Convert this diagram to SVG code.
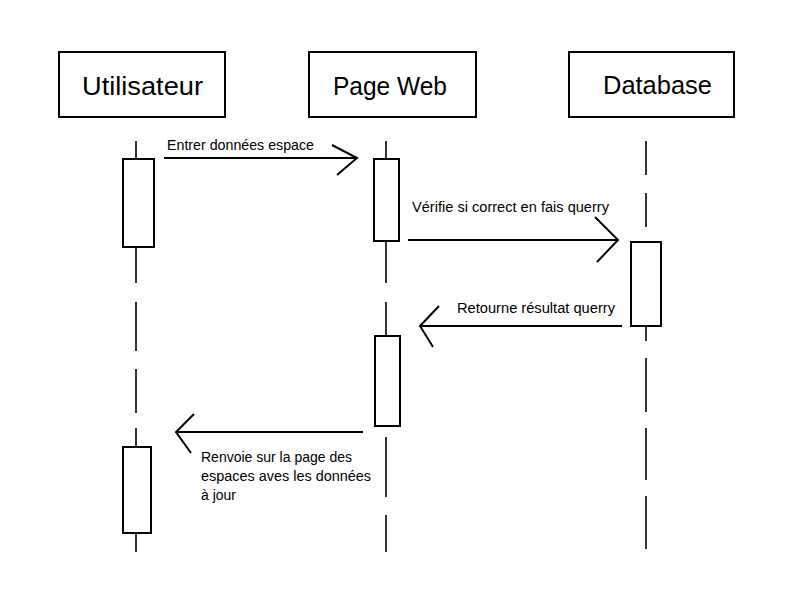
<svg xmlns="http://www.w3.org/2000/svg" width="800" height="600" viewBox="0 0 800 600">
<style>
.box{fill:#fff;stroke:#000;stroke-width:2}
.act{fill:#fff;stroke:#000;stroke-width:2}
.life{stroke:#333;stroke-width:2;fill:none}
.msg{stroke:#000;stroke-width:2;fill:none;stroke-linecap:butt;stroke-linejoin:miter}
.hdr{font-family:"Liberation Sans",Arial,sans-serif;font-size:26px;fill:#000}
.lbl{font-family:"Liberation Sans",Arial,sans-serif;font-size:14px;fill:#000}
</style>
<rect width="800" height="600" fill="#fff"/>
<g id="lifelines">
<path class="life" d="M136,141V159M136,247V283M136,302V351M136,369V413M136,428V447M136,533V552"/>
<path class="life" d="M386,141V159M386,241V283M386,302V336M386,437V497M386,515V552"/>
<path class="life" d="M646,141V175M646,193V227M646,325V341M646,358V412M646,428V480M646,496V549"/>
</g>
<g id="utilisateur">
<rect class="box" x="59" y="52" width="166" height="65"/>
<text class="hdr" x="82" y="95" textLength="121" lengthAdjust="spacingAndGlyphs">Utilisateur</text>
<rect class="act" x="123" y="159" width="31" height="88"/>
<rect class="act" x="123" y="447" width="28" height="86"/>
</g>
<g id="pageweb">
<rect class="box" x="309" y="52" width="167" height="65"/>
<text class="hdr" x="333" y="95" textLength="114" lengthAdjust="spacingAndGlyphs">Page Web</text>
<rect class="act" x="374" y="159" width="25" height="82"/>
<rect class="act" x="375" y="336" width="25" height="90"/>
</g>
<g id="database">
<rect class="box" x="569" y="52" width="165" height="65"/>
<text class="hdr" x="603" y="94" textLength="109" lengthAdjust="spacingAndGlyphs">Database</text>
<rect class="act" x="631" y="242" width="30" height="84"/>
</g>
<g id="connectors">
<path class="msg" d="M164,158H357M332,145L357,158L337,175"/>
<text class="lbl" x="167" y="150" textLength="147" lengthAdjust="spacingAndGlyphs">Entrer données espace</text>
<path class="msg" d="M408,240H618M595,217L618,240L597,262"/>
<text class="lbl" x="412" y="212" textLength="197" lengthAdjust="spacingAndGlyphs">Vérifie si correct en fais querry</text>
<path class="msg" d="M622,326H420M439,306L420,326L433,347"/>
<text class="lbl" x="457" y="313" textLength="158" lengthAdjust="spacingAndGlyphs">Retourne résultat querry</text>
<path class="msg" d="M363,432H176M194,414L176,432L191,453"/>
<text class="lbl" x="201" y="462" textLength="151" lengthAdjust="spacingAndGlyphs">Renvoie sur la page des</text>
<text class="lbl" x="201" y="481" textLength="170" lengthAdjust="spacingAndGlyphs">espaces aves les données</text>
<text class="lbl" x="201" y="500">à jour</text>
</g>
</svg>
